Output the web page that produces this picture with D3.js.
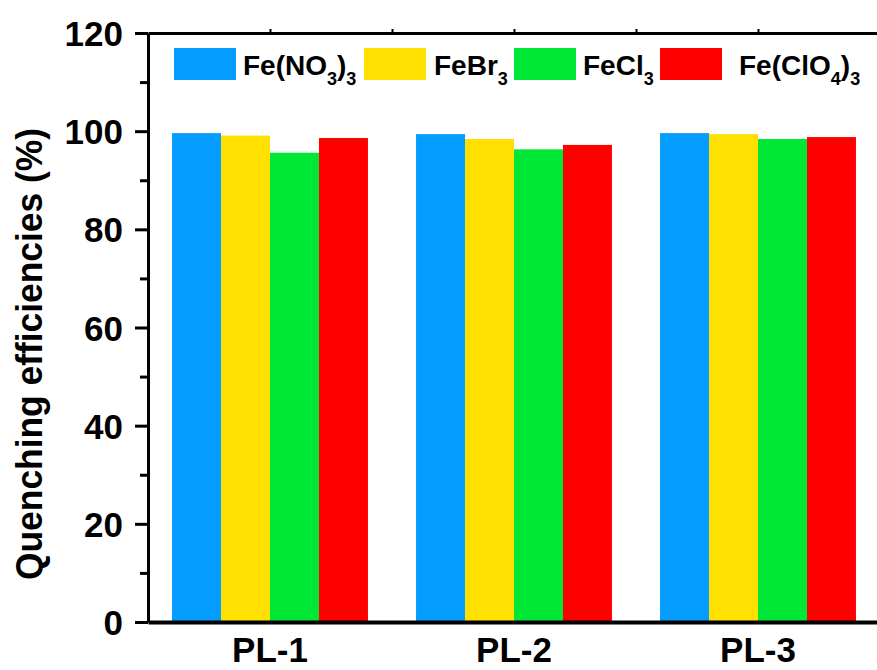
<!DOCTYPE html>
<html lang="en">
<head>
    <meta charset="UTF-8">
    <title>Quenching efficiencies</title>
    <style>
        html, body {
            margin: 0;
            padding: 0;
            background-color: #ffffff;
        }
        svg text {
            font-family: 'Liberation Sans', Arial, sans-serif;
            font-weight: bold;
            fill: #000;
        }
    </style>
</head>
<body>
    <div id="chart"></div>
    <script src="https://d3js.org/d3.v7.min.js"></script>
    <script>
        // DATA
        const categories = ["PL-1", "PL-2", "PL-3"];
        const seriesNames = ["Fe(NO_3)_3", "FeBr_3", "FeCl_3", "Fe(ClO_4)_3"];
        const feNO3 = [99.6, 99.4, 99.6];
        const feBr3 = [99.1, 98.4, 99.4];
        const feCl3 = [95.6, 96.3, 98.4];
        const feClO4 = [98.6, 97.2, 98.8];
        const yTicks = [0, 20, 40, 60, 80, 100, 120];
        const yMinorTicks = [10, 30, 50, 70, 90, 110];
        const colors = ["#049cff", "#ffe000", "#00e836", "#ff0000"];

        const seriesValues = [feNO3, feBr3, feCl3, feClO4];

        const width = 877, height = 670;
        const plot = {left: 148, right: 880, top: 33, bottom: 622};

        const svg = d3.select("#chart")
            .append("svg")
            .attr("width", width)
            .attr("height", height);

        // SCALES
        const x0 = d3.scaleBand()
            .domain(categories)
            .range([plot.left, plot.right])
            .paddingInner(0.197)
            .paddingOuter(0.0985);
        const x1 = d3.scaleBand()
            .domain(seriesNames)
            .range([0, x0.bandwidth()]);
        const y = d3.scaleLinear()
            .domain([0, 120])
            .range([plot.bottom, plot.top]);

        // BARS
        const rows = [];
        categories.forEach((c, i) => {
            seriesNames.forEach((s, j) => {
                rows.push({cat: c, name: s, value: seriesValues[j][i], color: colors[j]});
            });
        });

        svg.append("g")
            .selectAll("rect")
            .data(rows).enter()
            .append("rect")
            .attr("x", d => x0(d.cat) + x1(d.name))
            .attr("y", d => y(d.value))
            .attr("width", x1.bandwidth())
            .attr("height", d => y(0) - y(d.value))
            .style("fill", d => d.color);

        // Y AXIS (minor then major)
        svg.append("g")
            .attr("transform", `translate(${plot.left},0)`)
            .call(d3.axisLeft(y).tickValues(yMinorTicks).tickSize(8).tickFormat(""))
            .call(g => g.select(".domain").remove())
            .call(g => g.selectAll("line").attr("stroke-width", 3));

        const yAxis = svg.append("g")
            .attr("transform", `translate(${plot.left},0)`)
            .call(d3.axisLeft(y).tickValues(yTicks).tickSize(13).tickSizeOuter(0).tickPadding(12));
        yAxis.select(".domain").attr("stroke-width", 3);
        yAxis.selectAll("line").attr("stroke-width", 3);
        yAxis.selectAll("text").style("font-size", "35px").attr("dy", "0.36em");

        // TOP AXIS LINE with small ticks
        const xTop = d3.scaleLinear().domain([0.5, 3.5]).range([plot.left, plot.right]);
        const topAxis = svg.append("g")
            .attr("transform", `translate(0,${plot.top})`)
            .call(d3.axisTop(xTop).tickValues([1, 1.5, 2, 2.5, 3]).tickSize(4).tickSizeOuter(0).tickFormat(""));
        topAxis.select(".domain").attr("stroke-width", 3);
        topAxis.selectAll("line").attr("stroke-width", 2);

        // X AXIS
        const xAxis = svg.append("g")
            .attr("transform", `translate(0,${plot.bottom})`)
            .call(d3.axisBottom(x0).tickSize(0).tickSizeOuter(0).tickPadding(15));
        xAxis.select(".domain").attr("stroke-width", 4);
        xAxis.selectAll("text").style("font-size", "35px");

        // Y TITLE
        svg.append("text")
            .attr("transform", "translate(42,354) rotate(-90)")
            .attr("text-anchor", "middle")
            .attr("textLength", 452)
            .attr("lengthAdjust", "spacingAndGlyphs")
            .style("font-size", "37px")
            .text("Quenching efficiencies (%)");

        // LEGEND
        const legendX = [174, 364, 514, 660];
        const legendTextX = [243, 434, 583, 739];
        const legend = svg.append("g");
        seriesNames.forEach((name, j) => {
            legend.append("rect")
                .attr("x", legendX[j])
                .attr("y", 48)
                .attr("width", 62)
                .attr("height", 32)
                .style("fill", colors[j]);
            const t = legend.append("text")
                .attr("x", legendTextX[j])
                .attr("y", 75)
                .style("font-size", "28px");
            let lowered = false;
            name.split(/(_\d)/).filter(p => p.length).forEach(p => {
                if (p.startsWith("_")) {
                    t.append("tspan").attr("dy", 10).style("font-size", "18px").text(p.slice(1));
                    lowered = true;
                } else {
                    t.append("tspan").attr("dy", lowered ? -10 : 0).text(p);
                    lowered = false;
                }
            });
        });
    </script>
</body>
</html>
